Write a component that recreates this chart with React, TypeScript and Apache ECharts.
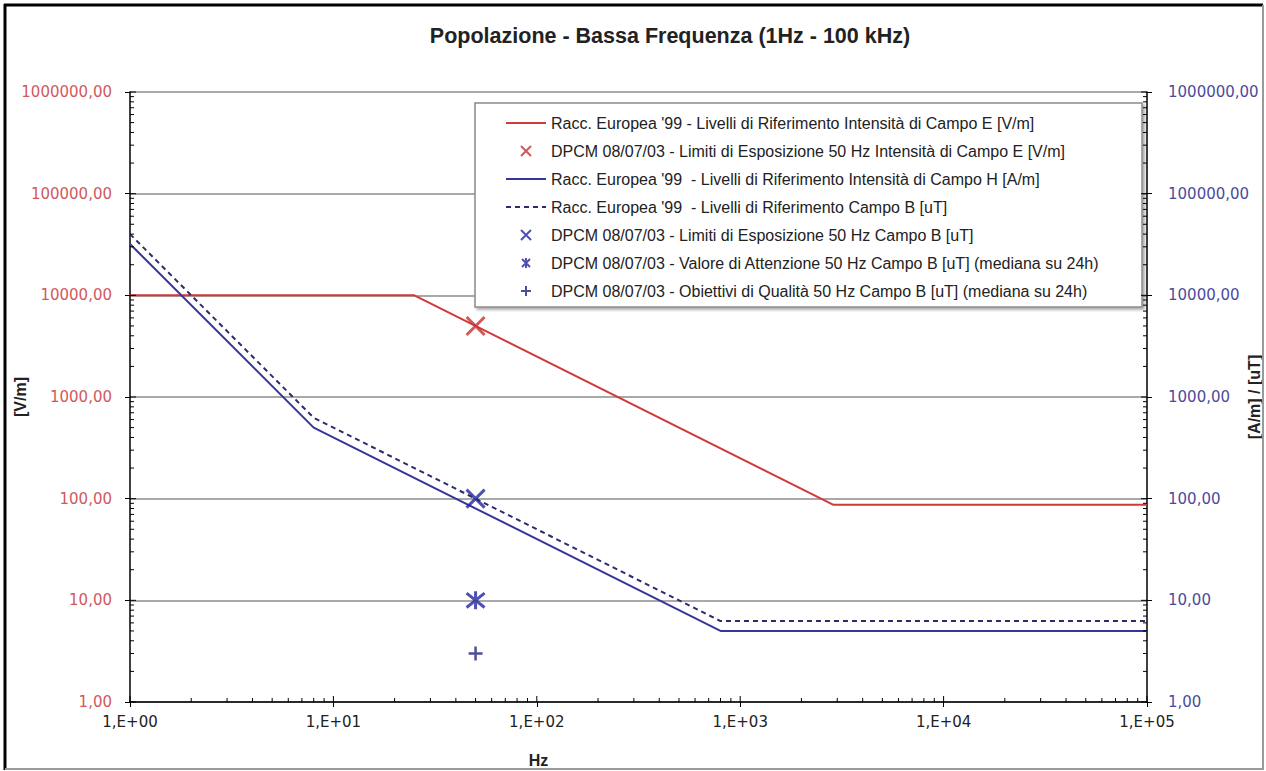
import React, { useEffect, useRef } from 'react';
import * as echarts from 'echarts';

const titleText = 'Popolazione - Bassa Frequenza (1Hz - 100 kHz)';

// Reference levels (frequency in Hz)
const freqE = [1, 25, 2875, 100000];
const valE = [10000, 10000, 87, 87];
const freqH = [1, 8, 800, 100000];
const valH = [32000, 500, 5, 5];
const freqB = [1, 8, 800, 100000];
const valB = [40000, 625, 6.25, 6.25];

// DPCM 08/07/03 values at 50 Hz
const markerFreq = 50;
const limitE = 5000;
const limitB = 100;
const attentionB = 10;
const qualityB = 3;

const seriesNames = [
  "Racc. Europea '99 - Livelli di Riferimento Intensità di Campo E [V/m]",
  'DPCM 08/07/03 - Limiti di Esposizione 50 Hz Intensità di Campo E [V/m]',
  "Racc. Europea '99  - Livelli di Riferimento Intensità di Campo H [A/m]",
  "Racc. Europea '99  - Livelli di Riferimento Campo B [uT]",
  'DPCM 08/07/03 - Limiti di Esposizione 50 Hz Campo B [uT]',
  'DPCM 08/07/03 - Valore di Attenzione 50 Hz Campo B [uT] (mediana su 24h)',
  'DPCM 08/07/03 - Obiettivi di Qualità 50 Hz Campo B [uT] (mediana su 24h)',
];
const lineSeriesIdx = [0, 2, 3];

const xDecades = [1, 10, 100, 1000, 10000, 100000];
const yDecades = [1, 10, 100, 1000, 10000, 100000, 1000000];
const minorMultipliers = [2, 3, 4, 5, 6, 7, 8, 9];

const X_PATH = 'path://M0,0L10,10M10,0L0,10';
const AST_PATH = 'path://M1,1L9,9M9,1L1,9M5,0L5,10';
const PLUS_PATH = 'path://M5,0L5,10M0,5L10,5';

const RED = '#cf3a3a';
const BLUE = '#36369a';
const NAVY = '#2c2c6a';

const zip = (a: number[], b: number[]) => a.map((v, i) => [v, b[i]]);

function buildTicks() {
  const out: number[][] = [];
  xDecades.forEach((d, i) => {
    out.push([d, 1, 0, 6]);
    if (i < xDecades.length - 1) minorMultipliers.forEach((m) => out.push([d * m, 1, 0, 4]));
  });
  yDecades.forEach((d, i) => {
    out.push([1, d, 1, 6]);
    out.push([100000, d, 2, 6]);
    if (i < yDecades.length - 1)
      minorMultipliers.forEach((m) => {
        out.push([1, d * m, 1, 4]);
        out.push([100000, d * m, 2, 4]);
      });
  });
  return out;
}

const numFont = 'DejaVu Sans';
const sans = '"Liberation Sans", Arial, sans-serif';

export default function App() {
  const ref = useRef<HTMLDivElement>(null);
  useEffect(() => {
    if (!ref.current) return;
    const chart = echarts.init(ref.current, undefined, { renderer: 'svg' });
    const yAxisCommon = {
      type: 'log',
      logBase: 10,
      min: 1,
      max: 1000000,
      nameLocation: 'middle',
      nameMoveOverlap: false,
      axisLine: { show: true, lineStyle: { color: '#000', width: 1.5 } },
      axisTick: { show: true, inside: false, length: 5, lineStyle: { color: '#000' } },
    };
    const option: any = {
      animation: false,
      backgroundColor: '#fff',
      title: {
        text: titleText,
        left: 665,
        top: 20,
        textAlign: 'center',
        textStyle: { fontFamily: sans, fontSize: 21.5, fontWeight: 'bold', color: '#222' },
      },
      grid: { left: 130, right: 119, top: 92, bottom: 69, containLabel: false, outerBoundsMode: 'none' },
      legend: {
        orient: 'vertical',
        left: 505,
        top: 113,
        padding: 0,
        itemGap: 8,
        itemWidth: 40,
        itemHeight: 10,
        selectedMode: false,
        data: seriesNames.map((n, i) =>
          lineSeriesIdx.includes(i) ? { name: n, itemStyle: { opacity: 0 } } : { name: n }
        ),
        textStyle: { fontFamily: sans, fontSize: 16, color: '#222', lineHeight: 20 },
        z: 6,
      },
      xAxis: {
        type: 'log',
        logBase: 10,
        min: 1,
        max: 100000,
        name: 'Hz',
        nameLocation: 'middle',
        nameMoveOverlap: false,
        nameGap: 50,
        nameTextStyle: { fontFamily: sans, fontSize: 16, fontWeight: 'bold', color: '#222', padding: [0, 200, 0, 0] },
        axisLine: { lineStyle: { color: '#000', width: 1.5 } },
        axisTick: { show: true, length: 5, lineStyle: { color: '#000' } },
        splitLine: { show: false },
        axisLabel: {
          margin: 12,
          fontFamily: numFont,
          fontSize: 15,
          color: '#222',
          formatter: (v: number) => '1,E+' + String(Math.round(Math.log10(v))).padStart(2, '0'),
        },
      },
      yAxis: [
        {
          ...yAxisCommon,
          position: 'left',
          name: '[V/m]',
          nameGap: 102,
          nameTextStyle: { fontFamily: sans, fontSize: 16, fontWeight: 'bold', color: '#222' },
          splitLine: { show: true, lineStyle: { color: '#8c8c8c', width: 1.5 } },
          axisLabel: {
            margin: 18,
            fontFamily: numFont,
            fontSize: 15,
            color: '#d2585c',
            formatter: (v: number) => v.toFixed(2).replace('.', ','),
          },
        },
        {
          ...yAxisCommon,
          position: 'right',
          name: '[A/m] / [uT]',
          nameGap: 99,
          nameTextStyle: { fontFamily: sans, fontSize: 16, fontWeight: 'bold', color: '#222' },
          splitLine: { show: false },
          axisLabel: {
            margin: 21,
            fontFamily: numFont,
            fontSize: 15,
            color: '#4b4b9e',
            formatter: (v: number) => v.toFixed(2).replace('.', ','),
          },
        },
      ],
      graphic: {
        elements: [
          {
            type: 'rect',
            z: 3,
            shape: { x: 475, y: 103, width: 667, height: 204 },
            style: {
              fill: '#fff',
              stroke: '#8a8a8a',
              lineWidth: 1.5,
              shadowBlur: 3,
              shadowOffsetX: 2,
              shadowOffsetY: 2,
              shadowColor: 'rgba(0,0,0,0.35)',
            },
          },
          { type: 'line', z: 10, shape: { x1: 4, y1: 5, x2: 1263, y2: 5 }, style: { stroke: '#000', lineWidth: 3 } },
          { type: 'line', z: 10, shape: { x1: 5, y1: 4, x2: 5, y2: 770 }, style: { stroke: '#000', lineWidth: 3 } },
          { type: 'line', z: 10, shape: { x1: 1263, y1: 5, x2: 1263, y2: 770 }, style: { stroke: '#9a9a9a', lineWidth: 2 } },
          { type: 'line', z: 10, shape: { x1: 5, y1: 769, x2: 1263, y2: 769 }, style: { stroke: '#9a9a9a', lineWidth: 2 } },
        ],
      },
      series: [
        {
          name: seriesNames[0],
          type: 'line',
          yAxisIndex: 0,
          data: zip(freqE, valE),
          symbol: 'none',
          lineStyle: { color: RED, width: 2 },
          itemStyle: { color: RED },
          z: 2,
        },
        {
          name: seriesNames[1],
          type: 'scatter',
          yAxisIndex: 0,
          data: [[markerFreq, limitE]],
          symbol: X_PATH,
          symbolSize: 18,
          itemStyle: { color: '#c83030', borderColor: '#c83030', borderWidth: 3 },
          z: 4,
        },
        {
          name: seriesNames[2],
          type: 'line',
          yAxisIndex: 1,
          data: zip(freqH, valH),
          symbol: 'none',
          lineStyle: { color: BLUE, width: 2 },
          itemStyle: { color: BLUE },
          z: 2,
        },
        {
          name: seriesNames[3],
          type: 'line',
          yAxisIndex: 1,
          data: zip(freqB, valB),
          symbol: 'none',
          lineStyle: { color: NAVY, width: 2, type: [5, 4] },
          itemStyle: { color: NAVY },
          z: 2,
        },
        {
          name: seriesNames[4],
          type: 'scatter',
          yAxisIndex: 1,
          data: [[markerFreq, limitB]],
          symbol: X_PATH,
          symbolSize: 18,
          itemStyle: { color: '#2424a0', borderColor: '#2424a0', borderWidth: 3 },
          z: 4,
        },
        {
          name: seriesNames[5],
          type: 'scatter',
          yAxisIndex: 1,
          data: [[markerFreq, attentionB]],
          symbol: AST_PATH,
          symbolSize: 18,
          itemStyle: { color: '#2424a0', borderColor: '#2424a0', borderWidth: 3 },
          z: 4,
        },
        {
          name: seriesNames[6],
          type: 'scatter',
          yAxisIndex: 1,
          data: [[markerFreq, qualityB]],
          symbol: PLUS_PATH,
          symbolSize: 14,
          itemStyle: { color: '#22227a', borderColor: '#22227a', borderWidth: 2.5 },
          z: 4,
        },
        {
          name: 'ticks',
          type: 'custom',
          yAxisIndex: 0,
          silent: true,
          clip: false,
          encode: { x: 0, y: 1 },
          data: buildTicks(),
          renderItem: (_p: any, api: any) => {
            const pt = api.coord([api.value(0), api.value(1)]);
            const dir = api.value(2);
            const len = api.value(3);
            let x2 = pt[0];
            let y2 = pt[1];
            if (dir === 0) y2 -= len;
            else if (dir === 1) x2 += len;
            else x2 -= len;
            return {
              type: 'line',
              shape: { x1: pt[0], y1: pt[1], x2, y2 },
              style: { stroke: '#000', lineWidth: 1 },
            };
          },
          z: 3,
        },
      ],
    };
    chart.setOption(option);
    return () => chart.dispose();
  }, []);
  return (
    <div
      ref={ref}
      style={{ position: 'absolute', left: 0, top: 0, width: 1266, height: 771 }}
    />
  );
}
